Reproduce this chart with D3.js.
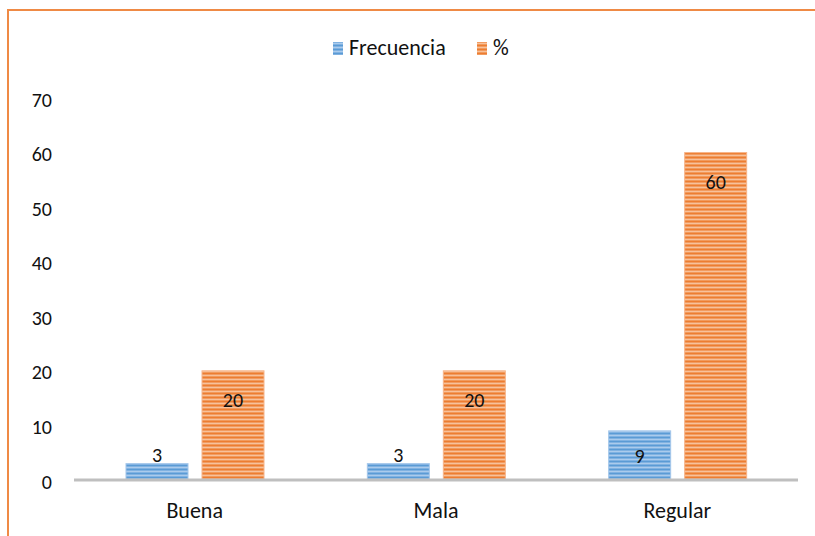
<!DOCTYPE html>
<html><head><meta charset="utf-8">
<script src="https://cdn.jsdelivr.net/npm/d3@7"></script>
<style>body{margin:0;background:#fff}svg{display:block}</style>
</head><body>
<script>
const categories = ["Buena", "Mala", "Regular"];
const seriesNames = ["Frecuencia", "%"];
const frecuencia = [3, 3, 9];
const porcentaje = [20, 20, 60];
const yTicks = [0, 10, 20, 30, 40, 50, 60, 70];

(function () {
const W = 815, H = 536;
const svg = d3.select("body").append("svg").attr("width", W).attr("height", H);
const font = "Calibri, Carlito, Lato, 'Open Sans', sans-serif";
const numSize = 20, wordSize = 22;

const defs = svg.append("defs");
function stripe(id, dark, mid, light) {
  const p = defs.append("pattern").attr("id", id).attr("patternUnits", "userSpaceOnUse")
    .attr("width", 8).attr("height", 4);
  p.append("rect").attr("width", 8).attr("height", 4).attr("fill", light);
  p.append("rect").attr("y", 0).attr("width", 8).attr("height", 1).attr("fill", mid);
  p.append("rect").attr("y", 1).attr("width", 8).attr("height", 1.5).attr("fill", dark);
  p.append("rect").attr("y", 2.5).attr("width", 8).attr("height", 0.5).attr("fill", mid);
}
stripe("pBlue", "#5b9bd5", "#80b2e2", "#abcbec");
stripe("pOrange", "#ed7d31", "#f19a5c", "#f7c19b");
const fills = ["url(#pBlue)", "url(#pOrange)"];
const edge = ["#a3c6ea", "#f6b489"];

// frame
svg.append("rect").attr("x", 8).attr("y", 10).attr("width", W + 20).attr("height", H + 20)
  .attr("fill", "none").attr("stroke", "#ef8a45").attr("stroke-width", 2);

const pLeft = 74, pRight = 798, pTop = 98, pBottom = 480;
const x = d3.scaleBand().domain(categories).range([pLeft, pRight]).paddingInner(0).paddingOuter(0);
const y = d3.scaleLinear().domain([0, 70]).range([pBottom, pTop]);
const inner = d3.scaleBand().domain([0, 1]).range([52, 190]).paddingInner(14 / 76).paddingOuter(0);

// y axis labels
const yAxis = d3.axisLeft(y).tickValues(yTicks).tickSize(0).tickPadding(0);
const ga = svg.append("g").attr("transform", `translate(52,0)`).call(yAxis);
ga.select(".domain").remove();
ga.selectAll("text").attr("font-family", font).attr("font-size", numSize).attr("fill", "#111").attr("dy", "0.4em");

const series = [frecuencia, porcentaje];
series.forEach((vals, si) => {
  const g = svg.append("g");
  g.selectAll("rect").data(vals).join("rect")
    .attr("x", (d, i) => x(categories[i]) + inner(si))
    .attr("y", d => y(d))
    .attr("width", inner.bandwidth())
    .attr("height", d => pBottom - y(d))
    .attr("fill", fills[si])
    .attr("stroke", edge[si]).attr("stroke-width", 1);
  g.selectAll("text").data(vals).join("text")
    .attr("x", (d, i) => x(categories[i]) + inner(si) + inner.bandwidth() / 2)
    .attr("y", d => {
      const t = y(d), h = pBottom - t;
      if (h < 30) return t - 2;
      return Math.min(t + 36, (t + pBottom) / 2 + 8);
    })
    .attr("text-anchor", "middle").attr("font-family", font).attr("font-size", numSize).attr("fill", "#111")
    .text(d => d);
});

// x axis
const gx = svg.append("g").attr("transform", `translate(0,${pBottom})`)
  .call(d3.axisBottom(x).tickSize(0).tickPadding(0));
gx.select(".domain").attr("stroke", "#bfbfbf").attr("stroke-width", 3).attr("d", `M${pLeft},0H${pRight}`);
gx.selectAll("text").attr("font-family", font).attr("font-size", wordSize).attr("fill", "#111").attr("dy", 0).attr("y", 38);

// legend
const lg = svg.append("g");
const legX = [333, 477];
seriesNames.forEach((n, i) => {
  lg.append("rect").attr("x", legX[i]).attr("y", 42).attr("width", 10).attr("height", 13).attr("fill", fills[i]);
  lg.append("text").attr("x", legX[i] + 16).attr("y", 55).attr("font-family", font).attr("font-size", wordSize)
    .attr("fill", "#111").text(n);
});
})();
</script>
</body></html>
